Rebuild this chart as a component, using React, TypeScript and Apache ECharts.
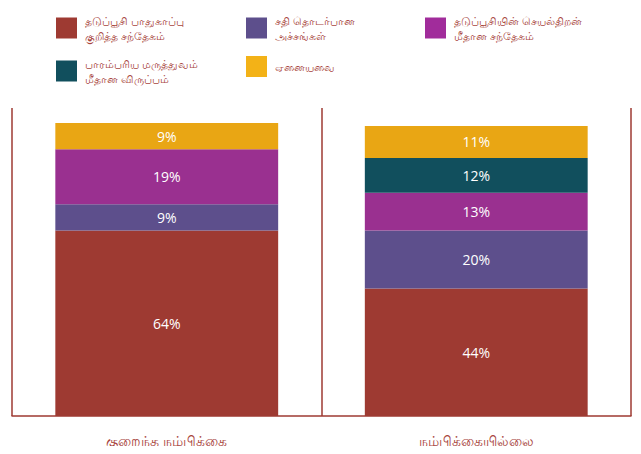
import React, { useEffect, useRef } from "react";
import * as echarts from "echarts";

const categories = ["குறைந்த நம்பிக்கை", "நம்பிக்கையில்லை"];
const seriesNames = [
  "தடுப்பூசி பாதுகாப்பு\nகுறித்த சந்தேகம்",
  "சதி தொடர்பான\nஅச்சங்கள்",
  "தடுப்பூசியின் செயல்திறன்\nமீதான சந்தேகம்",
  "பாரம்பரிய மருத்துவம்\nமீதான விருப்பம்",
  "ஏனையவை",
];
const safetyDoubt = [64, 44];
const conspiracyFears = [9, 20];
const efficacyDoubt = [19, 13];
const traditionalMedicine = [null, 12];
const others = [9, 11];
const seriesValues = [safetyDoubt, conspiracyFears, efficacyDoubt, traditionalMedicine, others];
const colors = ["#9e3a32", "#5d4f8c", "#9a3090", "#114f5d", "#e9a614"];
const legendIconColors = ["#9e3a32", "#5d4f8c", "#a12c9b", "#114f5d", "#f3b217"];

const legendPos = [
  { left: 56, top: 13 },
  { left: 246, top: 13 },
  { left: 425, top: 13 },
  { left: 56, top: 56 },
  { left: 246, top: 56 },
];

export default function App() {
  const ref = useRef<HTMLDivElement>(null);
  useEffect(() => {
    if (!ref.current) return;
    const chart = echarts.init(ref.current, null, { renderer: "svg" });
    const textColor = "#a8453e";
    chart.setOption({
      animation: false,
      legend: seriesNames.map((n, i) => ({
        data: [{ name: n, itemStyle: { color: legendIconColors[i] } }],
        left: legendPos[i].left,
        top: legendPos[i].top,
        icon: "rect",
        itemWidth: 21,
        itemHeight: 21,
        itemGap: 0,
        selectedMode: false,
        padding: 0,
        textStyle: {
          color: textColor,
          fontSize: 11,
          lineHeight: 15,
          padding: [0, 0, 0, 3],
          fontFamily: "Noto Sans, sans-serif",
        },
      })),
      grid: { left: 12, right: 10, top: 108, bottom: 38 },
      xAxis: {
        type: "category",
        data: categories,
        axisLine: { show: true, lineStyle: { color: "#9e3a32", width: 1.5 } },
        axisTick: { show: false },
        splitLine: { show: true, lineStyle: { color: "#9e3a32", width: 1.5 } },
        axisLabel: {
          color: textColor,
          fontSize: 14,
          margin: 17,
          fontFamily: "Noto Sans, sans-serif",
        },
      },
      yAxis: {
        type: "value",
        min: 0,
        max: 106.2,
        show: false,
        splitLine: { show: false },
      },
      series: seriesNames.map((n, i) => ({
        name: n,
        type: "bar",
        stack: "total",
        barWidth: "72%",
        data: seriesValues[i],
        itemStyle: { color: colors[i] },
        label: {
          show: true,
          position: "inside",
          color: "#ffffff",
          fontSize: 14,
          fontFamily: "Open Sans, sans-serif",
          formatter: (p: any) => (p.value == null ? "" : p.value + "%"),
        },
      })),
    });
    return () => chart.dispose();
  }, []);
  return <div ref={ref} style={{ width: 641, height: 454, margin: "-8px" }} />;
}
